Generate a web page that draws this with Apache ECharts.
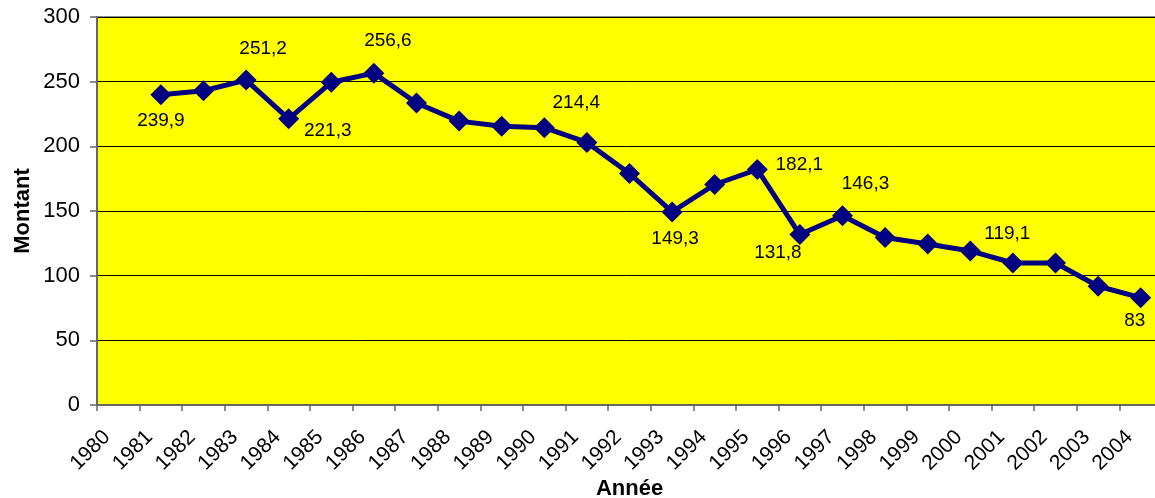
<!DOCTYPE html>
<html>
<head>
<meta charset="utf-8">
<script src="https://cdn.jsdelivr.net/npm/echarts@6/dist/echarts.min.js"></script>
<style>
html,body{margin:0;padding:0;background:#fff;}
#chart{width:1155px;height:498px;}
</style>
</head>
<body>
<div id="chart"></div>
<script>
// ---- data ----
const years = [1981,1982,1983,1984,1985,1986,1987,1988,1989,1990,1991,1992,1993,1994,1995,1996,1997,1998,1999,2000,2001,2002,2003,2004];
const montant = [239.9,243,251.2,221.3,249.5,256.6,233.5,219.5,215.5,214.4,203,179,149.3,170.5,182.1,131.8,146.3,129.5,124.5,119.1,109.8,109.8,91.8,83];
const tickYears = [1980,1981,1982,1983,1984,1985,1986,1987,1988,1989,1990,1991,1992,1993,1994,1995,1996,1997,1998,1999,2000,2001,2002,2003,2004];
const yTicks = [0,50,100,150,200,250,300];
const labelledYears = [1981,1983,1984,1986,1990,1993,1995,1996,1997,2000,2004];

// ---- label placement (style) ----
const labelOffsets = {
  1981:[0,26], 1983:[17,-31], 1984:[39,12], 1986:[14,-32], 1990:[32,-25],
  1993:[3,27], 1995:[42,-5], 1996:[-22,18], 1997:[23,-32], 2000:[37,-17], 2004:[-6,23]
};

const fmt = v => String(v).replace('.', ',');

const seriesData = years.map((y, i) => {
  const item = { value: [y + 0.5, montant[i]] };
  if (labelledYears.includes(y)) {
    item.label = { show: true, position: 'inside', offset: labelOffsets[y], formatter: fmt(montant[i]) };
  }
  return item;
});

const chart = echarts.init(document.getElementById('chart'), null, {renderer:'canvas'});
chart.setOption({
  backgroundColor: '#ffffff',
  animation: false,
  textStyle: { fontFamily: 'Liberation Sans, Arial, sans-serif' },
  grid: { left: 97, right: -7, top: 17, bottom: 93, containLabel: false, outerBoundsMode: 'none',
          show: true, backgroundColor: '#ffff00', borderColor: '#8c8c8c', borderWidth: 2 },
  xAxis: {
    type: 'value',
    min: tickYears[0], max: 2005, interval: 1,
    name: 'Année', nameLocation: 'middle', nameGap: 73, nameMoveOverlap: false,
    nameTextStyle: { fontSize: 22, fontWeight: 'bold', color: '#000' },
    axisLine: { show: true, lineStyle: { color: '#666', width: 2 } },
    axisTick: { show: true, length: 6, lineStyle: { color: '#666', width: 1.5 } },
    splitLine: { show: false },
    axisLabel: {
      rotate: 45, margin: 19, fontSize: 21, lineHeight: 28, color: '#000', verticalAlign: 'top',
      hideOverlap: false, showMinLabel: true,
      formatter: v => tickYears.includes(v) ? String(v) : ''
    }
  },
  yAxis: {
    type: 'value', min: yTicks[0], max: yTicks[yTicks.length-1], interval: 50,
    name: 'Montant', nameLocation: 'middle', nameGap: 63, nameRotate: 90, nameMoveOverlap: false,
    nameTextStyle: { fontSize: 22, fontWeight: 'bold', color: '#000' },
    axisLine: { show: true, lineStyle: { color: '#666', width: 2 } },
    axisTick: { show: true, length: 7, lineStyle: { color: '#666', width: 1.5 } },
    splitLine: { show: true, lineStyle: { color: '#000', width: 1 } },
    axisLabel: { fontSize: 22, color: '#000', margin: 17 }
  },
  series: [{
    type: 'line',
    data: seriesData,
    symbol: 'diamond', symbolSize: 21,
    lineStyle: { color: '#000080', width: 5 },
    itemStyle: { color: '#000080' },
    label: { show: false, fontSize: 19, color: '#000' },
    z: 5
  }]
});
</script>
</body>
</html>
